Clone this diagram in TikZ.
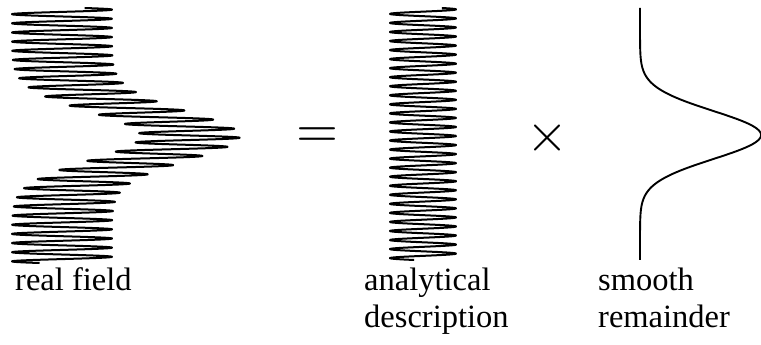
\documentclass[tikz,border=0pt]{standalone}
\usepackage{fontspec}
\setmainfont{Liberation Serif}
\begin{document}
\begin{tikzpicture}[x=1pt,y=-1pt,
  wave/.style={line width=2pt, line join=round},
  envelope/.style={line width=1.9pt},
  caption/.style={font=\fontsize{32.5}{37}\selectfont, inner sep=0pt, align=left, anchor=base west},
  op/.style={inner sep=0pt}]
\useasboundingbox (0,0) rectangle (761,345);

% real field: fast carrier shifted by a Gaussian envelope
\draw[wave] plot[domain=8:263, samples=1600, variable=\t]
  ({62 + 128*exp(-((\t-136)/24)^2/2) + 50*sin(27 + 39.32*(\t-8))}, {\t});

% analytical description: the bare carrier
\draw[wave] plot[domain=8:260, samples=1600, variable=\t]
  ({423 + 33*sin(35 + 39.8*(\t-8))}, {\t});

% smooth remainder: the Gaussian envelope alone
\draw[envelope] plot[domain=8:260, samples=300, variable=\t]
  ({640 + 121*exp(-((\t-135)/24)^2/2)}, {\t});

% operators
\node[op] (eq) at (317,138) {\scalebox{5.4}{$=$}};
\node[op] (times) at (547,137.5) {\scalebox{5.4}{$\times$}};

% captions (anchored on the baseline of the last line)
\node[caption] (lreal) at (15,290) {real field};
\node[caption] (lanal) at (364,327) {analytical\\description};
\node[caption] (lsmooth) at (598,327) {smooth\\remainder};
\end{tikzpicture}
\end{document}
